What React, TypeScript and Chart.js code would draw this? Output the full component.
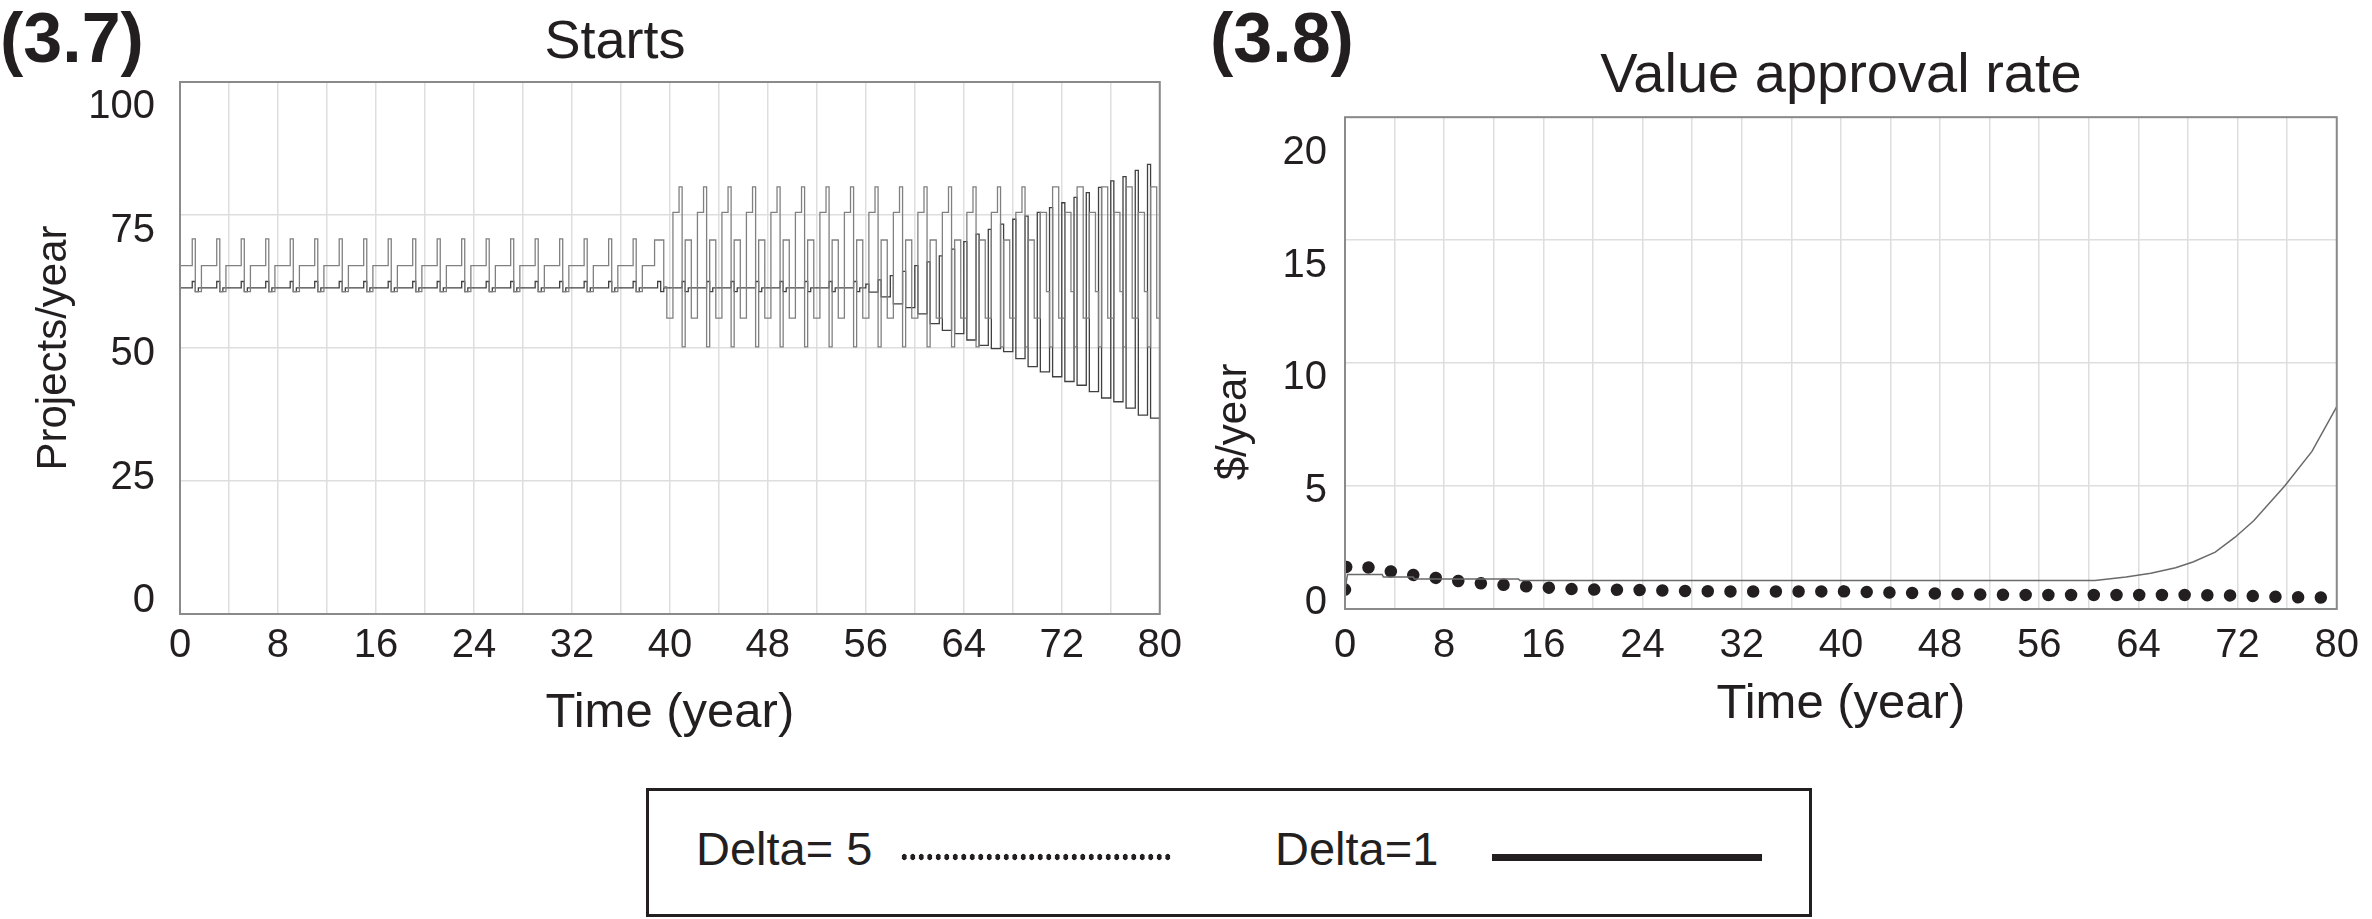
import React, { useEffect, useRef } from 'react';
import { Chart, registerables } from 'chart.js';

Chart.register(...registerables);

const FONT = "'Liberation Sans', Arial, Helvetica, sans-serif";
const INK = '#231f20';
const GRID = '#dedede';
const FRAME = '#8a8a8a';

// ---------- (3.7) Starts : values every quarter year, t = 0 .. 80 ----------
const STARTS_STEP_YEARS = 0.25;
const STARTS_DELTA5 = [
  65.5, 65.5, 65.5, 65.5, 70.5, 60.6, 60.6, 65.5,
  65.5, 65.5, 65.5, 65.5, 70.5, 60.6, 60.6, 65.5,
  65.5, 65.5, 65.5, 65.5, 70.5, 60.6, 60.6, 65.5,
  65.5, 65.5, 65.5, 65.5, 70.5, 60.6, 60.6, 65.5,
  65.5, 65.5, 65.5, 65.5, 70.5, 60.6, 60.6, 65.5,
  65.5, 65.5, 65.5, 65.5, 70.5, 60.6, 60.6, 65.5,
  65.5, 65.5, 65.5, 65.5, 70.5, 60.6, 60.6, 65.5,
  65.5, 65.5, 65.5, 65.5, 70.5, 60.6, 60.6, 65.5,
  65.5, 65.5, 65.5, 65.5, 70.5, 60.6, 60.6, 65.5,
  65.5, 65.5, 65.5, 65.5, 70.5, 60.6, 60.6, 65.5,
  65.5, 65.5, 65.5, 65.5, 70.5, 60.6, 60.6, 65.5,
  65.5, 65.5, 65.5, 65.5, 70.5, 60.6, 60.6, 65.5,
  65.5, 65.5, 65.5, 65.5, 70.5, 60.6, 60.6, 65.5,
  65.5, 65.5, 65.5, 65.5, 70.5, 60.6, 60.6, 65.5,
  65.5, 65.5, 65.5, 65.5, 70.5, 60.6, 60.6, 65.5,
  65.5, 65.5, 65.5, 65.5, 70.5, 60.6, 60.6, 65.5,
  65.5, 65.5, 65.5, 65.5, 70.5, 60.6, 60.6, 65.5,
  65.5, 65.5, 65.5, 65.5, 70.5, 60.6, 60.6, 65.5,
  65.5, 65.5, 65.5, 65.5, 70.5, 60.6, 60.6, 65.5,
  65.5, 65.5, 65.5, 70.3, 70.3, 70.3, 61.5, 55.6,
  55.6, 75.5, 75.5, 80.3, 50.2, 70.3, 70.3, 55.6,
  55.6, 75.5, 75.5, 80.3, 50.2, 70.3, 70.3, 55.6,
  55.6, 75.5, 75.5, 80.3, 50.2, 70.3, 70.3, 55.6,
  55.6, 75.5, 75.5, 80.3, 50.2, 70.3, 70.3, 55.6,
  55.6, 75.5, 75.5, 80.3, 50.2, 70.3, 70.3, 55.6,
  55.6, 75.5, 75.5, 80.3, 50.2, 70.3, 70.3, 55.6,
  55.6, 75.5, 75.5, 80.3, 50.2, 70.3, 70.3, 55.6,
  55.6, 75.5, 75.5, 80.3, 50.2, 70.3, 70.3, 55.6,
  55.6, 75.5, 75.5, 80.3, 50.2, 70.3, 70.3, 55.6,
  55.6, 75.5, 75.5, 80.3, 50.2, 70.3, 70.3, 55.6,
  55.6, 75.5, 75.5, 80.3, 50.2, 70.3, 70.3, 55.6,
  55.6, 75.5, 75.5, 80.3, 50.2, 70.3, 70.3, 55.6,
  55.6, 75.5, 75.5, 80.3, 50.2, 70.3, 70.3, 55.6,
  55.6, 75.5, 75.5, 80.3, 50.2, 70.3, 70.3, 55.6,
  55.6, 75.5, 75.5, 80.3, 50.2, 70.3, 70.3, 55.6,
  55.6, 75.5, 75.5, 60.6, 50.2, 80.3, 80.3, 55.6,
  55.6, 75.5, 75.5, 60.6, 50.2, 80.3, 80.3, 55.6,
  55.6, 75.5, 75.5, 60.6, 50.2, 80.3, 80.3, 55.6,
  55.6, 75.5, 75.5, 60.6, 50.2, 80.3, 80.3, 55.6,
  55.6, 75.5, 75.5, 60.6, 50.2, 80.3, 80.3, 55.6,
  55.6,
];
const STARTS_DELTA1 = [
  61.3, 61.3, 61.3, 61.3, 62.5, 60.6, 61.3, 61.3,
  61.3, 61.3, 61.3, 61.3, 62.5, 60.6, 61.3, 61.3,
  61.3, 61.3, 61.3, 61.3, 62.5, 60.6, 61.3, 61.3,
  61.3, 61.3, 61.3, 61.3, 62.5, 60.6, 61.3, 61.3,
  61.3, 61.3, 61.3, 61.3, 62.5, 60.6, 61.3, 61.3,
  61.3, 61.3, 61.3, 61.3, 62.5, 60.6, 61.3, 61.3,
  61.3, 61.3, 61.3, 61.3, 62.5, 60.6, 61.3, 61.3,
  61.3, 61.3, 61.3, 61.3, 62.5, 60.6, 61.3, 61.3,
  61.3, 61.3, 61.3, 61.3, 62.5, 60.6, 61.3, 61.3,
  61.3, 61.3, 61.3, 61.3, 62.5, 60.6, 61.3, 61.3,
  61.3, 61.3, 61.3, 61.3, 62.5, 60.6, 61.3, 61.3,
  61.3, 61.3, 61.3, 61.3, 62.5, 60.6, 61.3, 61.3,
  61.3, 61.3, 61.3, 61.3, 62.5, 60.6, 61.3, 61.3,
  61.3, 61.3, 61.3, 61.3, 62.5, 60.6, 61.3, 61.3,
  61.3, 61.3, 61.3, 61.3, 62.5, 60.6, 61.3, 61.3,
  61.3, 61.3, 61.3, 61.3, 62.5, 60.6, 61.3, 61.3,
  61.3, 61.3, 61.3, 61.3, 62.5, 60.6, 61.3, 61.3,
  61.3, 61.3, 61.3, 61.3, 62.5, 60.6, 61.3, 61.3,
  61.3, 61.3, 61.3, 61.3, 62.5, 60.6, 61.3, 61.3,
  61.3, 61.3, 61.3, 61.3, 62.5, 60.6, 61.3, 61.3,
  61.3, 61.3, 61.3, 61.3, 62.5, 60.6, 61.3, 61.3,
  61.3, 61.3, 61.3, 61.3, 62.5, 60.6, 61.3, 61.3,
  61.3, 61.3, 61.3, 61.3, 62.5, 60.6, 61.3, 61.3,
  61.3, 61.3, 61.3, 61.3, 62.5, 60.6, 61.3, 61.3,
  61.3, 61.3, 61.3, 61.3, 62.5, 60.6, 61.3, 61.3,
  61.3, 61.3, 61.3, 61.3, 62.5, 60.6, 61.3, 61.3,
  61.3, 61.3, 61.3, 61.3, 62.5, 60.6, 61.3, 61.3,
  61.3, 61.3, 61.3, 61.3, 62.5, 60.6, 61.3, 61.3,
  62.0, 60.5, 60.5, 60.5, 62.8, 59.6, 59.6, 59.6,
  63.6, 58.3, 58.3, 58.3, 64.4, 57.6, 57.6, 57.6,
  65.5, 56.4, 56.4, 56.4, 66.2, 54.6, 54.6, 54.6,
  67.3, 53.3, 53.3, 53.3, 68.6, 52.7, 52.7, 52.7,
  70.0, 51.5, 51.5, 51.5, 71.4, 50.5, 50.5, 50.5,
  72.3, 49.9, 49.9, 49.9, 73.3, 49.3, 49.3, 49.3,
  74.2, 48.0, 48.0, 48.0, 74.8, 46.5, 46.5, 46.5,
  75.5, 45.5, 45.5, 45.5, 76.4, 44.6, 44.6, 44.6,
  77.3, 43.7, 43.7, 43.7, 78.3, 43.0, 43.0, 43.0,
  79.2, 41.8, 41.8, 41.8, 80.2, 40.6, 40.6, 40.6,
  81.4, 39.9, 39.9, 39.9, 82.2, 38.7, 38.7, 38.7,
  83.4, 37.4, 37.4, 37.4, 84.5, 36.8, 36.8, 36.8,
  36.3,
];
const STARTS_Y_TICKS = [0, 25, 50, 75, 100];

// ---------- (3.8) Value approval rate ----------
const VALUE_DELTA5_TIME = [0, 0.1, 2, 4, 6, 8, 10, 12, 14, 16, 18, 20, 24, 28, 32, 36, 40, 44, 48, 52, 56, 60, 64, 68, 72, 76, 80];
const VALUE_DELTA5 = [0.79, 1.73, 1.69, 1.5, 1.35, 1.22, 1.08, 1.01, 0.94, 0.88, 0.82, 0.79, 0.77, 0.73, 0.71, 0.71, 0.72, 0.67, 0.63, 0.58, 0.57, 0.57, 0.57, 0.57, 0.55, 0.48, 0.46];
const VALUE_DELTA1_TIME = [0, 0.2, 3, 3.1, 5.5, 5.6, 14, 14.1, 60.5, 63, 65, 67, 68.4, 70.2, 71.8, 73.3, 75.8, 78, 80];
const VALUE_DELTA1 = [0.79, 1.4, 1.4, 1.3, 1.3, 1.22, 1.22, 1.16, 1.16, 1.3, 1.45, 1.68, 1.91, 2.31, 2.92, 3.59, 5.0, 6.41, 8.23];
const VALUE_Y_TICKS = [0, 5, 10, 15, 20];

const TIME_GRID_STEP = 4;
const TIME_LABEL_STEP = 8;

function makeFrame(cfg: any) {
  return {
    id: 'vensimFrame',
    afterDraw(chart: any) {
      const { ctx, chartArea: a, scales } = chart;
      ctx.save();
      ctx.strokeStyle = FRAME;
      ctx.lineWidth = 2;
      ctx.strokeRect(a.left, a.top, a.right - a.left, a.bottom - a.top);
      const ys = scales.y;
      const H = a.bottom - a.top;
      const k = (H - cfg.offTop - cfg.offBottom) / H;
      ctx.fillStyle = INK;
      ctx.font = `40px ${FONT}`;
      ctx.textAlign = 'right';
      ctx.textBaseline = 'middle';
      for (const v of cfg.ticks) {
        const p = ys.getPixelForValue(v);
        ctx.fillText(String(v), a.left - cfg.gap, a.top + cfg.offTop + (p - a.top) * k);
      }
      ctx.translate(cfg.titleX, cfg.titleY);
      ctx.rotate(-Math.PI / 2);
      ctx.textAlign = 'center';
      ctx.font = `42px ${FONT}`;
      ctx.fillText(cfg.title, 0, 0);
      ctx.restore();
    },
  };
}

function xAxis(height: number, labelPad: number, titlePad: number) {
  return {
    type: 'linear',
    min: 0,
    max: 80,
    ticks: {
      stepSize: TIME_GRID_STEP,
      autoSkip: false,
      maxRotation: 0,
      padding: labelPad,
      color: INK,
      font: { size: 40, family: FONT },
      callback: (v: number) => (v % TIME_LABEL_STEP === 0 ? String(v) : ''),
    },
    grid: { color: GRID, lineWidth: 1.5, drawTicks: false },
    border: { display: false },
    title: {
      display: true,
      text: 'Time (year)',
      color: INK,
      font: { size: 49, family: FONT },
      padding: { top: 0, bottom: titlePad },
    },
    afterFit: (s: any) => {
      s.height = height;
    },
  };
}

function yAxis(max: number, step: number, width: number) {
  return {
    min: 0,
    max,
    ticks: { display: false, stepSize: step },
    grid: { color: GRID, lineWidth: 1.5, drawTicks: false },
    border: { display: false },
    afterFit: (s: any) => {
      s.width = width;
    },
  };
}

export default function App() {
  const leftRef = useRef<HTMLCanvasElement>(null);
  const rightRef = useRef<HTMLCanvasElement>(null);

  useEffect(() => {
    const startsA = STARTS_DELTA5.map((v, i) => ({ x: i * STARTS_STEP_YEARS, y: v }));
    const startsB = STARTS_DELTA1.map((v, i) => ({ x: i * STARTS_STEP_YEARS, y: v }));
    const left = new Chart(leftRef.current as HTMLCanvasElement, {
      type: 'line',
      data: {
        datasets: [
          {
            label: 'Delta= 5',
            data: startsA,
            stepped: true,
            borderColor: '#808080',
            borderWidth: 1.3,
            pointRadius: 0,
          },
          {
            label: 'Delta=1',
            data: startsB,
            stepped: true,
            borderColor: '#404040',
            borderWidth: 1.3,
            pointRadius: 0,
          },
        ],
      },
      options: {
        responsive: false,
        animation: false,
        layout: { padding: { left: 68, right: 28, top: 0, bottom: 0 } },
        plugins: {
          legend: { display: false },
          tooltip: { enabled: false },
          title: {
            display: true,
            text: 'Starts',
            color: INK,
            font: { size: 54, family: FONT, weight: 'normal' },
            padding: { top: 11, bottom: 6.2 },
            fullSize: true,
          },
        },
        scales: {
          x: xAxis(156, 8, 27) as any,
          y: yAxis(100, 25, 112) as any,
        },
      } as any,
      plugins: [
        makeFrame({ ticks: STARTS_Y_TICKS, offTop: 25, offBottom: 13, gap: 25, title: 'Projects/year', titleX: 54, titleY: 348 }),
      ],
    });

    const valA = VALUE_DELTA5.map((v, i) => ({ x: VALUE_DELTA5_TIME[i], y: v }));
    const valB = VALUE_DELTA1.map((v, i) => ({ x: VALUE_DELTA1_TIME[i], y: v }));
    const right = new Chart(rightRef.current as HTMLCanvasElement, {
      type: 'line',
      data: {
        datasets: [
          {
            label: 'Delta=1',
            data: valB,
            borderColor: '#6a6a6a',
            borderWidth: 1.5,
            pointRadius: 0,
            tension: 0,
          },
          {
            label: 'Delta= 5',
            data: valA,
            borderColor: INK,
            borderWidth: 12.5,
            borderDash: [0.01, 22.7],
            borderCapStyle: 'round',
            borderJoinStyle: 'round',
            pointRadius: 0,
            tension: 0,
          },
        ],
      },
      options: {
        responsive: false,
        animation: false,
        layout: { padding: { left: 0, right: 30, top: 0, bottom: 0 } },
        plugins: {
          legend: { display: false },
          tooltip: { enabled: false },
          title: {
            display: true,
            text: 'Value approval rate',
            color: INK,
            font: { size: 56, family: FONT, weight: 'normal' },
            padding: { top: 43, bottom: 7 },
            fullSize: false,
          },
        },
        scales: {
          x: xAxis(161, 13, 36) as any,
          y: yAxis(20, 5, 155) as any,
        },
      } as any,
      plugins: [
        makeFrame({ ticks: VALUE_Y_TICKS, offTop: 36, offBottom: 6, gap: 18, title: '$/year', titleX: 44.5, titleY: 422 }),
      ],
    });

    return () => {
      left.destroy();
      right.destroy();
    };
  }, []);

  const tag: React.CSSProperties = {
    position: 'absolute',
    top: 3,
    fontFamily: FONT,
    fontWeight: 'bold',
    fontSize: 70,
    lineHeight: '70px',
    color: INK,
    whiteSpace: 'nowrap',
  };
  const legendText: React.CSSProperties = {
    position: 'absolute',
    top: 34,
    fontFamily: FONT,
    fontSize: 47,
    lineHeight: '47px',
    color: INK,
    whiteSpace: 'nowrap',
  };

  return (
    <div
      style={{
        position: 'absolute',
        left: 0,
        top: 0,
        width: 2372,
        height: 919,
        background: '#fff',
        overflow: 'hidden',
      }}
    >
      <canvas ref={leftRef} width={1190} height={770} style={{ position: 'absolute', left: 0, top: 0 }} />
      <canvas ref={rightRef} width={1182} height={770} style={{ position: 'absolute', left: 1190, top: 0 }} />
      <div style={{ ...tag, left: 0 }}>(3.7)</div>
      <div style={{ ...tag, left: 1210 }}>(3.8)</div>
      <div
        style={{
          position: 'absolute',
          left: 646,
          top: 788,
          width: 1166,
          height: 129,
          boxSizing: 'border-box',
          border: `3px solid ${INK}`,
          background: '#fff',
        }}
      >
        <span style={{ ...legendText, left: 47 }}>Delta= 5</span>
        <div
          style={{
            position: 'absolute',
            left: 251,
            top: 62,
            width: 273,
            height: 8,
            backgroundImage: `radial-gradient(ellipse 2.6px 3.6px at 50% 50%, ${INK} 85%, transparent 100%)`,
            backgroundSize: '8.5px 8px',
            backgroundRepeat: 'repeat-x',
          }}
        />
        <span style={{ ...legendText, left: 626 }}>Delta=1</span>
        <div
          style={{
            position: 'absolute',
            left: 843,
            top: 63,
            width: 270,
            height: 7,
            background: INK,
          }}
        />
      </div>
    </div>
  );
}
